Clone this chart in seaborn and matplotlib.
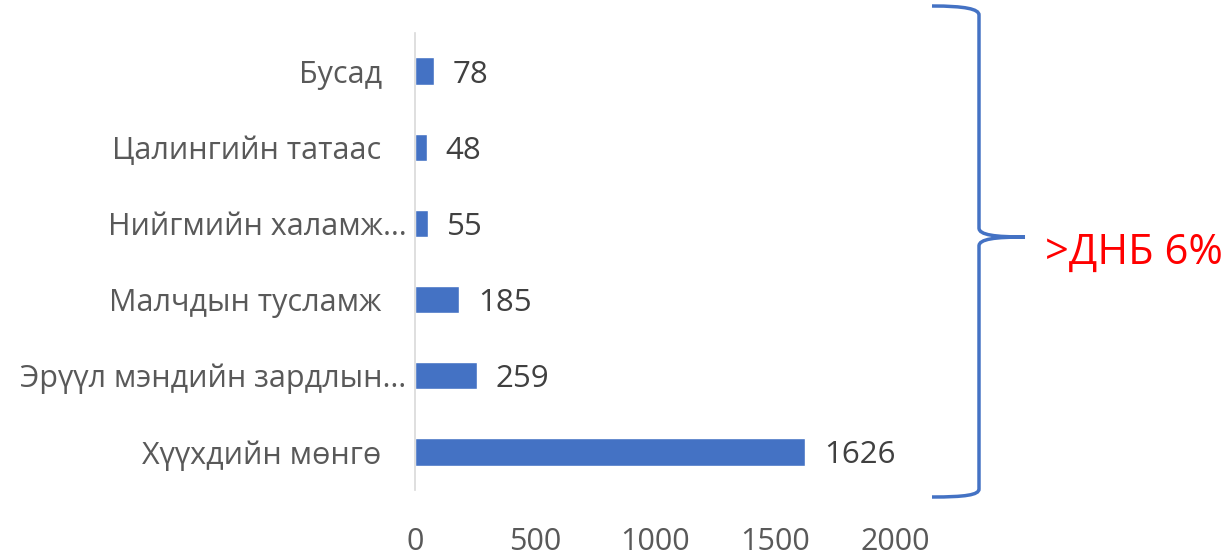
import matplotlib
matplotlib.use("Agg")
import matplotlib.pyplot as plt
from matplotlib.path import Path
from matplotlib.patches import PathPatch
from matplotlib.transforms import ScaledTranslation
import pandas as pd
import seaborn as sns

categories = ["Бусад", "Цалингийн татаас", "Нийгмийн халамж…", "Малчдын тусламж",
              "Эрүүл мэндийн зардлын…", "Хүүхдийн мөнгө"]
values = [78, 48, 55, 185, 259, 1626]
xticks = [0, 500, 1000, 1500, 2000]
brace_text = ">ДНБ 6%"

sns.set_style("white")
plt.rcParams['font.family'] = ['Open Sans', 'DejaVu Sans']

df = pd.DataFrame({"cat": categories, "val": values})

fig = plt.figure(figsize=(12.31, 5.57), dpi=100)
ax = fig.add_axes([415 / 1231, 1 - 490 / 557, 480 / 1231, 457 / 557])
sns.barplot(data=df, y="cat", x="val", color="#4472C4", width=0.36,
            saturation=1, ax=ax, orient="h")

ax.set_xlim(0, 2000)
ax.set_xticks(xticks)
ax.set_xlabel("")
ax.set_ylabel("")
for s in ["top", "right", "bottom"]:
    ax.spines[s].set_visible(False)
ax.spines["left"].set_color("#d9d9d9")
ax.spines["left"].set_linewidth(1.2)
ax.tick_params(axis="both", length=0, labelsize=22, colors="#595959")
ax.tick_params(axis="y", pad=24)
ax.tick_params(axis="x", pad=27)
# truncated labels sit a bit further right in the original
for lab in ax.get_yticklabels():
    if lab.get_text().endswith("…"):
        lab.set_transform(lab.get_transform() + ScaledTranslation(0.25, 0, fig.dpi_scale_trans))
vals = ax.bar_label(ax.containers[0], padding=13.5, fontsize=22.5, color="#404040")
for t in vals:
    t.xyann = (13.5, -2.5)

# brace on the right, drawn in pixel coordinates of an overlay
ov = fig.add_axes([0, 0, 1, 1])
ov.set_xlim(0, 1231)
ov.set_ylim(557, 0)
ov.axis("off")
verts = [(932, 6), (965, 6), (979, 9), (979, 15),
         (979, 228),
         (979, 235), (995, 237), (1025, 237),
         (995, 237), (979, 239), (979, 246),
         (979, 489),
         (979, 495), (965, 497), (932, 497)]
codes = [Path.MOVETO, Path.CURVE4, Path.CURVE4, Path.CURVE4,
         Path.LINETO,
         Path.CURVE4, Path.CURVE4, Path.CURVE4,
         Path.CURVE4, Path.CURVE4, Path.CURVE4,
         Path.LINETO,
         Path.CURVE4, Path.CURVE4, Path.CURVE4]
ov.add_patch(PathPatch(Path(verts, codes), facecolor="none",
                       edgecolor="#4472C4", linewidth=2.5))
ov.text(1045, 253, brace_text, color="#FF0000", fontsize=30, va="center", ha="left")

fig.savefig("out.png", dpi=100)
